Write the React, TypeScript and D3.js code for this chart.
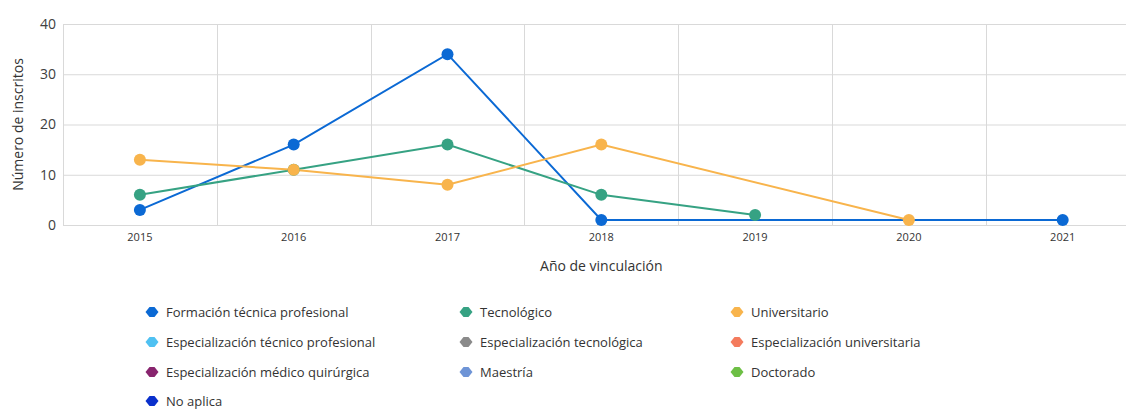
import React, { useEffect, useRef } from 'react';
import * as d3 from 'd3';

const years = ['2015', '2016', '2017', '2018', '2019', '2020', '2021'];
const yTicks = [0, 10, 20, 30, 40];

// null = no record for that year (line connects across)
const formacionTecnica = [3, 16, 34, 1, null, null, 1];
const tecnologico = [6, 11, 16, 6, 2, null, null];
const universitario = [13, 11, 8, 16, null, 1, null];

const legendNames = [
  'Formación técnica profesional', 'Tecnológico', 'Universitario',
  'Especialización técnico profesional', 'Especialización tecnológica', 'Especialización universitaria',
  'Especialización médico quirúrgica', 'Maestría', 'Doctorado',
  'No aplica',
];
const legendColors = [
  '#0B69D4', '#36A283', '#F8B44C',
  '#4FC1F2', '#8A8A8A', '#F47B5D',
  '#88246E', '#6E94D6', '#6DBF45',
  '#0A30CC',
];

const series = [
  { name: legendNames[0], color: legendColors[0], values: formacionTecnica },
  { name: legendNames[1], color: legendColors[1], values: tecnologico },
  { name: legendNames[2], color: legendColors[2], values: universitario },
];

const App = () => {
  const svgRef = useRef(null);

  useEffect(() => {
    const svg = d3.select(svgRef.current);
    svg.selectAll('*').remove();

    const font = '"Open Sans", "Noto Sans", sans-serif';
    const left = 63;
    const top = 24;
    const bottom = 225;
    const bandW = 153.8;

    const x = d3.scaleBand().domain(years).range([left, left + bandW * years.length]).padding(0);
    const y = d3.scaleLinear().domain([0, 40]).range([bottom, top]);

    const g = svg.append('g');

    // horizontal grid
    g.selectAll('.hgrid')
      .data(yTicks)
      .enter()
      .append('line')
      .attr('x1', left)
      .attr('x2', left + bandW * years.length)
      .attr('y1', d => y(d) + 0.5)
      .attr('y2', d => y(d) + 0.5)
      .style('stroke', '#d9d9d9')
      .style('stroke-width', 1);

    // vertical grid at band edges
    const edges = years.map(yr => x(yr));
    g.selectAll('.vgrid')
      .data(edges)
      .enter()
      .append('line')
      .attr('x1', d => Math.round(d) + 0.5)
      .attr('x2', d => Math.round(d) + 0.5)
      .attr('y1', top)
      .attr('y2', bottom)
      .style('stroke', '#d9d9d9')
      .style('stroke-width', 1);

    // y tick labels
    g.selectAll('.ytick')
      .data(yTicks)
      .enter()
      .append('text')
      .attr('x', 56)
      .attr('y', d => y(d))
      .attr('dy', '0.35em')
      .attr('text-anchor', 'end')
      .style('font-family', font)
      .style('font-size', '14px')
      .style('fill', '#404040')
      .text(d => d);

    // x tick labels
    g.selectAll('.xtick')
      .data(years)
      .enter()
      .append('text')
      .attr('x', d => x(d) + x.bandwidth() / 2)
      .attr('y', 237)
      .attr('dy', '0.35em')
      .attr('text-anchor', 'middle')
      .style('font-family', font)
      .style('font-size', '11px')
      .style('fill', '#333')
      .text(d => d);

    // axis titles
    g.append('text')
      .attr('transform', `translate(18,${(top + bottom) / 2}) rotate(-90)`)
      .attr('text-anchor', 'middle')
      .attr('dy', '0.35em')
      .style('font-family', font)
      .style('font-size', '14px')
      .style('fill', '#333')
      .text('Número de inscritos');

    g.append('text')
      .attr('x', left + (bandW * years.length) / 2)
      .attr('y', 266)
      .attr('dy', '0.35em')
      .attr('text-anchor', 'middle')
      .style('font-family', font)
      .style('font-size', '14px')
      .style('fill', '#333')
      .text('Año de vinculación');

    const cx = (i) => x(years[i]) + x.bandwidth() / 2;

    const line = d3.line()
      .x(d => cx(d.i))
      .y(d => y(d.v));

    series.forEach(s => {
      const pts = s.values
        .map((v, i) => ({ v, i }))
        .filter(d => d.v !== null);

      g.append('path')
        .datum(pts)
        .attr('d', line)
        .style('fill', 'none')
        .style('stroke', s.color)
        .style('stroke-width', 2);
    });

    series.forEach(s => {
      const pts = s.values
        .map((v, i) => ({ v, i }))
        .filter(d => d.v !== null);

      g.selectAll(null)
        .data(pts)
        .enter()
        .append('circle')
        .attr('cx', d => cx(d.i))
        .attr('cy', d => y(d.v))
        .attr('r', 6)
        .style('fill', s.color);
    });

    // legend
    const colX = [152, 466, 737];
    const rowY = [312, 342, 372, 401];
    const legend = g.selectAll('.legend')
      .data(legendNames)
      .enter()
      .append('g')
      .attr('transform', (d, i) => `translate(${colX[i % 3]},${rowY[Math.floor(i / 3)]})`);

    legend.append('path')
      .attr('d', 'M-6.5,0 L-2.5,-5 L2.5,-5 L6.5,0 L2.5,5 L-2.5,5 Z')
      .style('fill', (d, i) => legendColors[i]);

    legend.append('text')
      .attr('x', 14)
      .attr('dy', '0.35em')
      .style('font-family', font)
      .style('font-size', '13px')
      .style('fill', '#333')
      .text(d => d);
  }, []);

  return (
    <svg
      ref={svgRef}
      width={1126}
      height={410}
      style={{ position: 'absolute', left: 0, top: 0, background: '#fff' }}
    ></svg>
  );
};

export default App;
